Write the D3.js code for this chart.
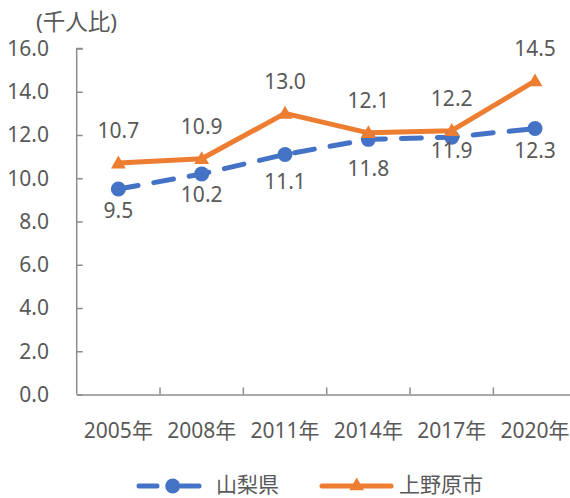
<!DOCTYPE html>
<html>
<head>
<meta charset="utf-8">
<script src="https://cdn.jsdelivr.net/npm/d3@7"></script>
<style>
  body { margin: 0; background: #fff; }
  svg text { font-family: "Noto Sans", "Noto Sans CJK JP", sans-serif; fill: #595959; }
</style>
</head>
<body>
<div id="chart"></div>
<script>
let years = ["2005年", "2008年", "2011年", "2014年", "2017年", "2020年"];
let yamanashi = [9.5, 10.2, 11.1, 11.8, 11.9, 12.3];
let uenohara = [10.7, 10.9, 13.0, 12.1, 12.2, 14.5];
let yTicks = [0, 2, 4, 6, 8, 10, 12, 14, 16];
let seriesNames = ["山梨県", "上野原市"];
// labels under the blue markers were nudged by hand in the original
let blueLabelDy = [22, 21, 27, 29, 13, 22];

let width = 570, height = 498;
let blue = "#4472C4", orange = "#ED7D31", axisColor = "#8c8c8c";

let x = d3.scaleBand()
  .domain(years)
  .range([76.7, 576.7]);

let y = d3.scaleLinear()
  .domain([0, 16])
  .range([394.5, 48.5]);

const svg = d3.select("#chart").append("svg")
  .attr("width", width)
  .attr("height", height);

// y axis
let yAxis = g => g
  .attr("transform", `translate(${x.range()[0]},0)`)
  .call(d3.axisRight(y).tickValues(yTicks).tickSize(6).tickFormat(""))
  .call(g => g.selectAll("line, path").attr("stroke", axisColor).attr("stroke-width", 1.5))
  .call(g => g.select(".domain").attr("d", `M6,${y(16)}H0V${y(0)}`));

svg.append("g").call(yAxis);

svg.append("g")
  .selectAll("text")
  .data(yTicks)
  .join("text")
    .attr("x", 49)
    .attr("y", d => y(d))
    .attr("dy", "0.35em")
    .attr("text-anchor", "end")
    .attr("font-size", "21px")
    .text(d => d3.format(".1f")(d));

// x axis
let xAxis = g => g
  .attr("transform", `translate(0,${y(0)})`)
  .call(d3.axisTop(x).tickSize(0).tickFormat(""))
  .call(g => g.select(".domain").attr("stroke", axisColor).attr("stroke-width", 1.5));

svg.append("g").call(xAxis);

svg.append("g")
  .selectAll("line")
  .data(years.slice(1))
  .join("line")
    .attr("x1", d => x(d))
    .attr("x2", d => x(d))
    .attr("y1", y(0))
    .attr("y2", y(0) - 7)
    .attr("stroke", axisColor)
    .attr("stroke-width", 1.5);

svg.append("g")
  .selectAll("text")
  .data(years)
  .join("text")
    .attr("x", d => x(d) + x.bandwidth() / 2)
    .attr("y", 431)
    .attr("dy", "0.35em")
    .attr("text-anchor", "middle")
    .attr("font-size", "21px")
    .text(d => d);

svg.append("text")
  .attr("x", 36)
  .attr("y", 22)
  .attr("dy", "0.35em")
  .attr("font-size", "22.5px")
  .attr("fill", "#404040")
  .text("(千人比)");

let cx = d => x(d) + x.bandwidth() / 2;
let line = d3.line()
  .x(d => cx(d.year))
  .y(d => y(d.value));

let blueData = years.map((yr, i) => ({year: yr, value: yamanashi[i]}));
let orangeData = years.map((yr, i) => ({year: yr, value: uenohara[i]}));

// 山梨県 dashed
svg.append("path")
  .datum(blueData)
  .attr("fill", "none")
  .attr("stroke", blue)
  .attr("stroke-width", 5)
  .attr("stroke-linecap", "round")
  .attr("stroke-dasharray", "20,16")
  .attr("d", line);

// 上野原市 solid
svg.append("path")
  .datum(orangeData)
  .attr("fill", "none")
  .attr("stroke", orange)
  .attr("stroke-width", 5)
  .attr("stroke-linejoin", "round")
  .attr("d", line);

svg.append("g")
  .selectAll("circle")
  .data(blueData)
  .join("circle")
    .attr("cx", d => cx(d.year))
    .attr("cy", d => y(d.value))
    .attr("r", 7.5)
    .attr("fill", blue);

let tri = d3.symbol().type(d3.symbolTriangle).size(95);
svg.append("g")
  .selectAll("path")
  .data(orangeData)
  .join("path")
    .attr("transform", d => `translate(${cx(d.year)},${y(d.value) + 1})`)
    .attr("d", tri)
    .attr("fill", orange);

// data labels
svg.append("g")
  .selectAll("text")
  .data(orangeData)
  .join("text")
    .attr("x", d => cx(d.year))
    .attr("y", d => y(d.value) - 32)
    .attr("dy", "0.35em")
    .attr("text-anchor", "middle")
    .attr("font-size", "21px")
    .attr("fill", "#404040")
    .text(d => d3.format(".1f")(d.value));

svg.append("g")
  .selectAll("text")
  .data(blueData)
  .join("text")
    .attr("x", d => cx(d.year))
    .attr("y", (d, i) => y(d.value) + blueLabelDy[i])
    .attr("dy", "0.35em")
    .attr("text-anchor", "middle")
    .attr("font-size", "21px")
    .attr("fill", "#404040")
    .text(d => d3.format(".1f")(d.value));

// legend
let legend = svg.append("g").attr("transform", "translate(0,486)");

legend.append("line")
  .attr("x1", 139).attr("x2", 157).attr("y1", 0).attr("y2", 0)
  .attr("stroke", blue).attr("stroke-width", 5).attr("stroke-linecap", "round");
legend.append("line")
  .attr("x1", 181).attr("x2", 199).attr("y1", 0).attr("y2", 0)
  .attr("stroke", blue).attr("stroke-width", 5).attr("stroke-linecap", "round");
legend.append("circle")
  .attr("cx", 172.7).attr("cy", 0).attr("r", 7.5).attr("fill", blue);
legend.append("text")
  .attr("x", 216).attr("y", -1)
  .attr("dy", "0.35em")
  .attr("font-size", "21px")
  .text(seriesNames[0]);

legend.append("line")
  .attr("x1", 322).attr("x2", 391).attr("y1", 0).attr("y2", 0)
  .attr("stroke", orange).attr("stroke-width", 5).attr("stroke-linecap", "round");
legend.append("path")
  .attr("transform", "translate(356.7,0)")
  .attr("d", tri)
  .attr("fill", orange);
legend.append("text")
  .attr("x", 399).attr("y", -1)
  .attr("dy", "0.35em")
  .attr("font-size", "21px")
  .text(seriesNames[1]);
</script>
</body>
</html>
